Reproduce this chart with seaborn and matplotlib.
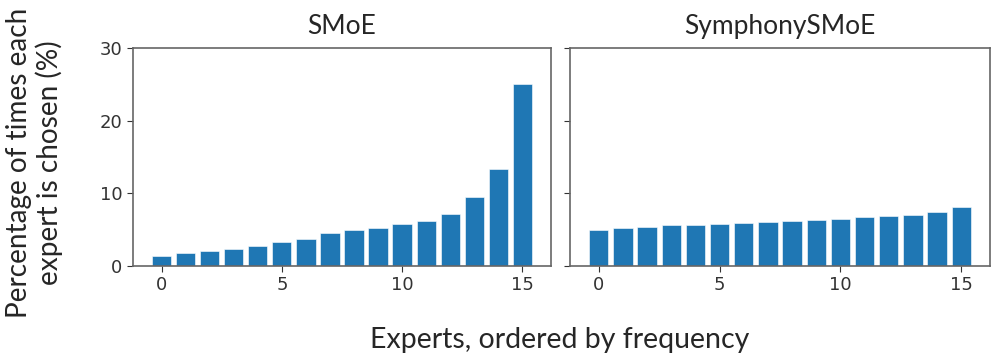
import numpy as np
import pandas as pd
import matplotlib
matplotlib.use('Agg')
import matplotlib.pyplot as plt
import seaborn as sns

# Expert usage, sorted ascending
experts = list(range(16))
smoe_pct = [1.4, 1.8, 2.1, 2.4, 2.7, 3.3, 3.7, 4.6, 5.0, 5.2, 5.8, 6.2, 7.1, 9.5, 13.3, 25.1]
symphony_pct = [5.0, 5.2, 5.4, 5.6, 5.7, 5.8, 5.9, 6.1, 6.2, 6.4, 6.5, 6.7, 6.9, 7.0, 7.5, 8.1]
titles = ['SMoE', 'SymphonySMoE']
xticks = [0, 5, 10, 15]
yticks = [0, 10, 20, 30]

sns.set_style('ticks')
plt.rcParams['font.family'] = ['DejaVu Sans']
label_font = ['Lato', 'DejaVu Sans']

fig = plt.figure(figsize=(9.96, 3.61), dpi=100)
ax1 = fig.add_axes([0.1335, 0.263, 0.4197, 0.604])
ax2 = fig.add_axes([0.5723, 0.263, 0.4217, 0.604], sharey=ax1)

for ax, vals, title in zip([ax1, ax2], [smoe_pct, symphony_pct], titles):
    df = pd.DataFrame({'expert': experts, 'pct': vals})
    sns.barplot(data=df, x='expert', y='pct', native_scale=True, color='#1f77b4',
                saturation=1, width=0.8, edgecolor='white', linewidth=0.4, ax=ax)
    ax.set_xticks(xticks)
    ax.set_title(title, fontsize=19, family=label_font, pad=10)
    ax.set_xlabel('')
    ax.set_ylabel('')
    ax.tick_params(labelsize=13, colors='#333333', length=4)
    for s in ax.spines.values():
        s.set_color('#666666')
        s.set_linewidth(1.2)

ax1.set_ylim(0, 30)
ax1.set_yticks(yticks)
ax2.tick_params(axis='y', labelleft=False)

fig.text(0.035, 0.55, 'Percentage of times each\nexpert is chosen (%)', rotation=90,
         ha='center', va='center', fontsize=20.2, family=label_font, linespacing=1.15)
fig.text(0.562, 0.058, 'Experts, ordered by frequency', ha='center', va='center',
         fontsize=20.5, family=label_font)

fig.savefig('out.png', dpi=100)
